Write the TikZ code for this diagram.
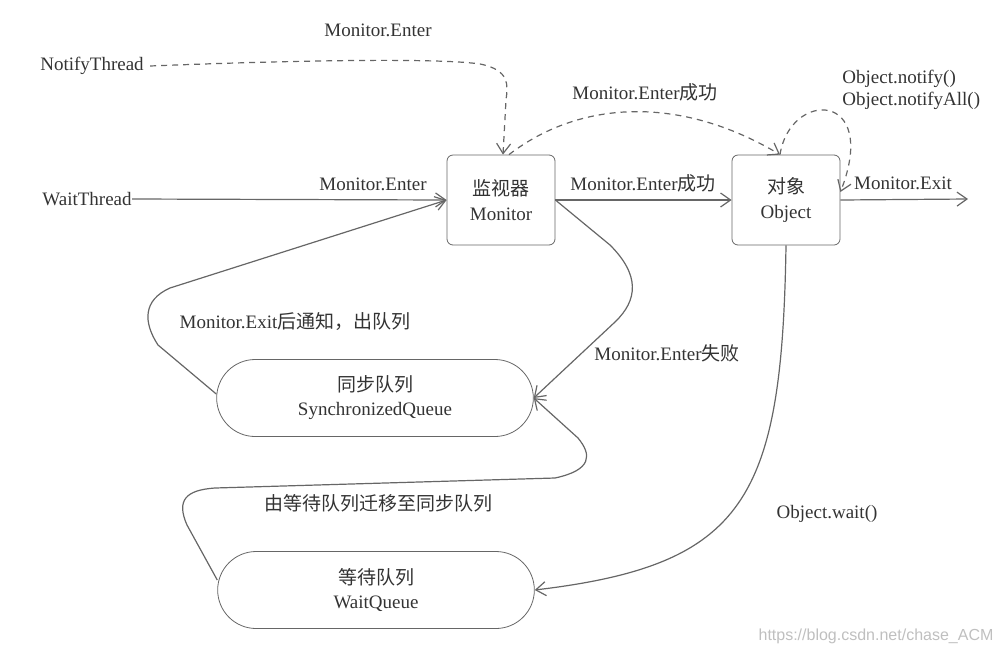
\documentclass[tikz,border=0pt]{standalone}
\usepackage{fontspec}
\setmainfont{Liberation Serif}
\newfontfamily\cjk{Noto Sans CJK SC}
\newfontfamily\wm{Liberation Sans}
\usetikzlibrary{arrows.meta,shapes.misc}
\definecolor{ln}{HTML}{666666}
\definecolor{tx}{HTML}{333333}
\tikzset{
  lbl/.style={text=tx,font=\fontsize{9.5}{11}\selectfont,inner sep=0pt},
  box/.style={draw=ln,rounded corners=3pt,minimum width=54pt,minimum height=45pt,text=tx,font=\fontsize{9.5}{12.5}\selectfont,align=center},
  que/.style={draw=ln,rounded rectangle,minimum width=165pt,minimum height=38.5pt,text=tx,font=\fontsize{9.5}{12}\selectfont,align=center},
  conn/.style={draw=ln,line width=0.6pt,-{Straight Barb[length=5pt,width=7pt]}},
  dconn/.style={conn,dashed,dash pattern=on 3pt off 2.5pt}
}
\begin{document}
\begin{tikzpicture}[x=0.5pt,y=-0.5pt]
\useasboundingbox (0,0) rectangle (1001,654);
% nodes
\node[lbl] (nt) at (92,66) {NotifyThread};
\node[lbl] (wt) at (87,199) {WaitThread};
\node[box] (mon) at (501,200) {{\cjk 监视器}\\Monitor};
\node[box] (obj) at (786,200) {{\cjk 对象}\\Object};
\node[que] (sq) at (375,398) {{\cjk 同步队列}\\SynchronizedQueue};
\node[que] (wq) at (376,590) {{\cjk 等待队列}\\WaitQueue};
\coordinate (exitend) at (968,199);
% labels
\node[lbl] (l1) at (378,30) {Monitor.Enter};
\node[lbl] (l2) at (645,92) {Monitor.Enter{\cjk 成功}};
\node[lbl,align=left,anchor=west] (l3) at (842,90) {Object.notify()\\Object.notifyAll()};
\node[lbl] (l4) at (373,184) {Monitor.Enter};
\node[lbl] (l5) at (643,183) {Monitor.Enter{\cjk 成功}};
\node[lbl] (l6) at (903,183) {Monitor.Exit};
\node[lbl] (l7) at (295,322) {Monitor.Exit{\cjk 后通知，出队列}};
\node[lbl] (l8) at (667,353) {Monitor.Enter{\cjk 失败}};
\node[lbl] (l9) at (378,503) {\cjk 由等待队列迁移至同步队列};
\node[lbl] (l10) at (827,514) {Object.wait()};
\node[text=black!25,font=\wm\fontsize{8}{10}\selectfont,inner sep=0pt] (wmk) at (876,636) {https://blog.csdn.net/chase\_ACM};
% connectors
\draw[dconn] ([xshift=3pt]nt.east) .. controls (300,60) and (440,58) .. (480,64) .. controls (510,70) and (508,85) .. (506,100) -- ([xshift=1pt]mon.north);
\draw[dconn] ([xshift=4pt]mon.north) .. controls (580,100) and (680,95) .. ([xshift=-3pt]obj.north);
\draw[dconn] ([xshift=-3pt]obj.north) .. controls (790,90) and (880,90) .. ([yshift=4pt]obj.east);
\draw[conn] (wt.east) -- (mon.west);
\draw[conn] (mon.east) -- (obj.west);
\draw[conn] (obj.east) -- (exitend);
\draw[conn] (mon.east) -- (610,245) .. controls (640,275) and (638,300) .. (615,322) -- (sq.east);
\draw[conn] ([yshift=2pt]sq.west) -- (158,345) .. controls (143,322) and (143,300) .. (170,288) -- (mon.west);
\draw[conn] ([yshift=5pt]wq.west) -- (187,525) .. controls (176,500) and (186,490) .. (215,488) -- (555,478) .. controls (592,470) and (592,455) .. (578,438) -- (sq.east);
\draw[conn] (obj.south) .. controls (782,500) and (745,565) .. (wq.east);
\end{tikzpicture}
\end{document}
